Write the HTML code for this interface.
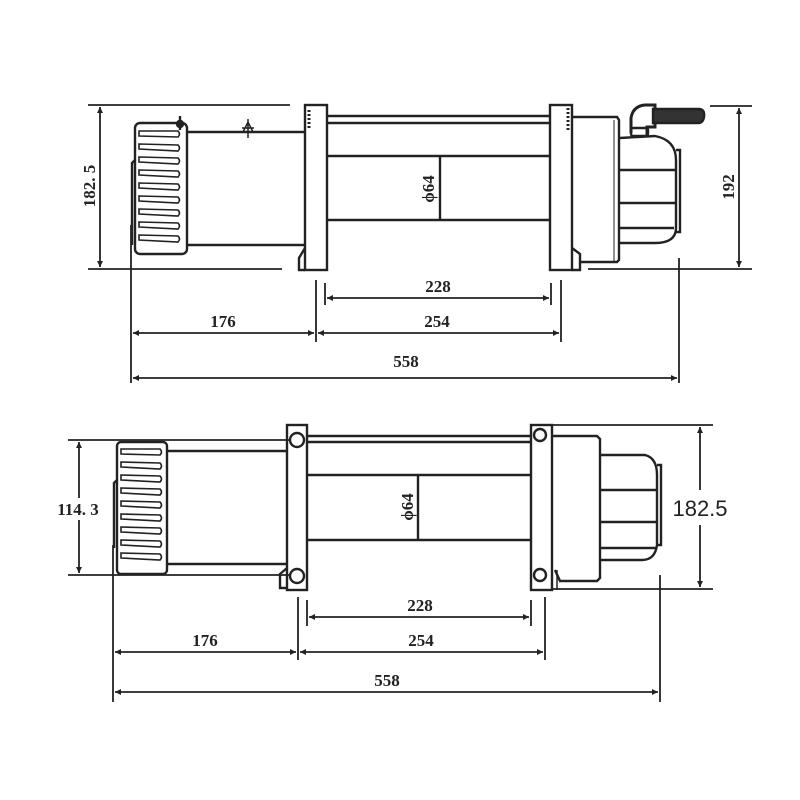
<!DOCTYPE html>
<html><head><style>
html,body{margin:0;padding:0;background:#fff;width:800px;height:800px;overflow:hidden}
svg{display:block}
text{font-family:"Liberation Sans Narrow","Liberation Serif",serif;font-size:17px;fill:#222;font-weight:bold}
</style></head><body>
<svg width="800" height="800" viewBox="0 0 800 800" xmlns="http://www.w3.org/2000/svg">
<defs>
<marker id="a" viewBox="0 0 10 10" refX="10" refY="5" markerWidth="8" markerHeight="6" orient="auto-start-reverse" markerUnits="userSpaceOnUse"><path d="M0,0 L10,5 L0,10 z" fill="#222"/></marker>
</defs>
<g stroke="#222" stroke-width="2.4" fill="none">
<!-- ===== TOP VIEW ===== -->
<line x1="88" y1="105" x2="290" y2="105" stroke-width="1.8"/>
<line x1="88" y1="269" x2="282" y2="269" stroke-width="1.8"/>
<line x1="100" y1="107" x2="100" y2="267" stroke-width="1.8" marker-start="url(#a)" marker-end="url(#a)"/>
<rect x="135" y="123" width="52" height="131" rx="5"/>
<g stroke-width="1.6">
<path d="M139,131 H178 Q181,134 178,137 L139,136 Z M139,144 L178,145 Q181,148 178,151 L139,149 Z M139,157 L178,158 Q181,161 178,164 L139,162 Z M139,170 L178,171 Q181,174 178,177 L139,175 Z M139,183 L178,184 Q181,187 178,190 L139,188 Z M139,196 L178,197 Q181,200 178,203 L139,201 Z M139,209 L178,210 Q181,213 178,216 L139,214 Z M139,222 L178,223 Q181,226 178,229 L139,227 Z M139,235 L178,236 Q181,239 178,242 L139,240 Z"/>
</g>
<path d="M135,160 L132,163 V245"/>
<line x1="187" y1="132" x2="305" y2="132"/>
<line x1="187" y1="245" x2="305" y2="245"/>
<circle cx="180" cy="124" r="3" fill="#222"/>
<line x1="180" y1="116" x2="180" y2="130"/>
<path d="M243,132 L248,122 L253,132 M248,119 V138 M242,128 H254" stroke-width="1.5"/>
<rect x="305" y="105" width="22" height="165"/>
<path d="M305,248 L299,258 V270 H305"/>
<path d="M309,110 v20" stroke-width="3" stroke-dasharray="2 2"/>
<line x1="327" y1="116" x2="550" y2="116"/>
<line x1="327" y1="123" x2="550" y2="123"/>
<line x1="327" y1="156" x2="550" y2="156"/>
<line x1="327" y1="220" x2="550" y2="220"/>
<line x1="440" y1="156" x2="440" y2="220"/>
<rect x="550" y="105" width="22" height="165"/>
<path d="M568,108 v22" stroke-width="3" stroke-dasharray="2 2"/>
<path d="M572,248 L580,254 V270 H572"/>
<path d="M572,117 H617 L619,120 V260 L617,262 H580"/>
<line x1="614" y1="120" x2="614" y2="262" stroke-width="1"/>
<path d="M620,138 L655,136 Q676,140 676,160 V228 Q676,243 655,243 H620"/>
<line x1="620" y1="170" x2="676" y2="170"/>
<line x1="620" y1="203" x2="676" y2="203"/>
<line x1="620" y1="228" x2="674" y2="228"/>
<path d="M676,150 H680 V232 H676"/>
<path d="M631,133 V118 Q633,106 645,105 H655 V127 H647 V135" stroke-width="3"/>
<rect x="631" y="128" width="17" height="8" rx="2"/>
<path d="M653,109 H700 Q705,110 704,117 Q703,123 698,123 H653 Z" fill="#333"/>
<line x1="710" y1="106" x2="752" y2="106" stroke-width="1.8"/>
<line x1="588" y1="269" x2="752" y2="269" stroke-width="1.8"/>
<line x1="739" y1="108" x2="739" y2="267" stroke-width="1.8" marker-start="url(#a)" marker-end="url(#a)"/>
<g stroke-width="1.8">
<line x1="131" y1="225" x2="131" y2="383"/>
<line x1="316" y1="280" x2="316" y2="342"/>
<line x1="325" y1="283" x2="325" y2="305"/>
<line x1="551" y1="283" x2="551" y2="305"/>
<line x1="561" y1="280" x2="561" y2="342"/>
<line x1="679" y1="258" x2="679" y2="383"/>
<line x1="327" y1="298" x2="549" y2="298" marker-start="url(#a)" marker-end="url(#a)"/>
<line x1="133" y1="333" x2="314" y2="333" marker-start="url(#a)" marker-end="url(#a)"/>
<line x1="318" y1="333" x2="559" y2="333" marker-start="url(#a)" marker-end="url(#a)"/>
<line x1="133" y1="378" x2="677" y2="378" marker-start="url(#a)" marker-end="url(#a)"/>
</g>

<!-- ===== BOTTOM VIEW ===== -->
<line x1="68" y1="440" x2="290" y2="440" stroke-width="1.8"/>
<line x1="68" y1="575" x2="290" y2="575" stroke-width="1.8"/>
<line x1="79" y1="442" x2="79" y2="498" stroke-width="1.8" marker-start="url(#a)"/>
<line x1="79" y1="520" x2="79" y2="573" stroke-width="1.8" marker-end="url(#a)"/>
<rect x="117" y="442" width="50" height="132" rx="4"/>
<g stroke-width="1.6">
<path d="M121,449 H160 Q163,452 160,455 L121,454 Z M121,462 L160,463 Q163,466 160,469 L121,467 Z M121,475 L160,476 Q163,479 160,482 L121,480 Z M121,488 L160,489 Q163,492 160,495 L121,493 Z M121,501 L160,502 Q163,505 160,508 L121,506 Z M121,514 L160,515 Q163,518 160,521 L121,519 Z M121,527 L160,528 Q163,531 160,534 L121,532 Z M121,540 L160,541 Q163,544 160,547 L121,545 Z M121,553 L160,554 Q163,557 160,560 L121,558 Z"/>
</g>
<path d="M117,480 L114,483 V548"/>
<line x1="167" y1="451" x2="287" y2="451"/>
<line x1="167" y1="564" x2="287" y2="564"/>
<rect x="287" y="425" width="20" height="165"/>
<circle cx="297" cy="440" r="7"/>
<circle cx="297" cy="576" r="7"/>
<path d="M287,568 L280,574 V588 H287"/>
<line x1="307" y1="436" x2="531" y2="436"/>
<line x1="307" y1="442" x2="531" y2="442"/>
<line x1="307" y1="475" x2="531" y2="475"/>
<line x1="307" y1="540" x2="531" y2="540"/>
<line x1="418" y1="475" x2="418" y2="540"/>
<rect x="531" y="425" width="21" height="165"/>
<circle cx="540" cy="435" r="6"/>
<circle cx="540" cy="575" r="6"/>
<path d="M552,436 H597 L600,439 V578 L597,581 H560 L555,570"/>
<line x1="557" y1="570" x2="557" y2="590" stroke-width="1.5"/>
<path d="M600,455 H645 Q657,458 657,475 V545 Q655,560 642,560 H600"/>
<line x1="600" y1="490" x2="657" y2="490"/>
<line x1="600" y1="522" x2="657" y2="522"/>
<line x1="600" y1="548" x2="657" y2="548"/>
<path d="M657,465 H661 V545 H657"/>
<line x1="552" y1="425" x2="713" y2="425" stroke-width="1.8"/>
<line x1="552" y1="589" x2="713" y2="589" stroke-width="1.8"/>
<line x1="700" y1="427" x2="700" y2="490" stroke-width="1.8" marker-start="url(#a)"/>
<line x1="700" y1="525" x2="700" y2="587" stroke-width="1.8" marker-end="url(#a)"/>
<g stroke-width="1.8">
<line x1="113" y1="545" x2="113" y2="702"/>
<line x1="298" y1="597" x2="298" y2="660"/>
<line x1="307" y1="600" x2="307" y2="626"/>
<line x1="531" y1="600" x2="531" y2="626"/>
<line x1="545" y1="597" x2="545" y2="660"/>
<line x1="660" y1="575" x2="660" y2="702"/>
<line x1="309" y1="617" x2="529" y2="617" marker-start="url(#a)" marker-end="url(#a)"/>
<line x1="115" y1="652" x2="296" y2="652" marker-start="url(#a)" marker-end="url(#a)"/>
<line x1="300" y1="652" x2="543" y2="652" marker-start="url(#a)" marker-end="url(#a)"/>
<line x1="115" y1="692" x2="658" y2="692" marker-start="url(#a)" marker-end="url(#a)"/>
</g>
</g>
<text x="0" y="0" text-anchor="middle" transform="translate(95,186) rotate(-90)">182. 5</text>
<text x="0" y="0" text-anchor="middle" transform="translate(434,189) rotate(-90)">ϕ64</text>
<text x="0" y="0" text-anchor="middle" transform="translate(734,187) rotate(-90)">192</text>
<text x="438" y="292" text-anchor="middle">228</text>
<text x="223" y="327" text-anchor="middle">176</text>
<text x="437" y="327" text-anchor="middle">254</text>
<text x="406" y="367" text-anchor="middle">558</text>
<text x="78" y="515" text-anchor="middle">114. 3</text>
<text x="0" y="0" text-anchor="middle" transform="translate(413,507) rotate(-90)">ϕ64</text>
<text x="700" y="516" text-anchor="middle" style="font-family:'Liberation Sans',sans-serif;font-size:22px;font-weight:normal">182.5</text>
<text x="420" y="611" text-anchor="middle">228</text>
<text x="205" y="646" text-anchor="middle">176</text>
<text x="421" y="646" text-anchor="middle">254</text>
<text x="387" y="686" text-anchor="middle">558</text>
</svg>
</body></html>
